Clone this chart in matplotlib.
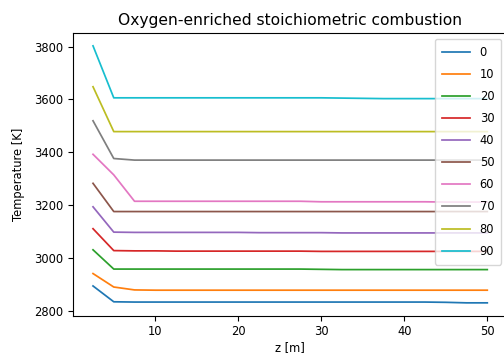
import matplotlib
matplotlib.use("Agg")
import matplotlib.pyplot as plt

# axial positions along the combustor
z = [2.5, 5.0, 7.5, 10.0, 12.5, 15.0, 17.5, 20.0, 22.5, 25.0,
     27.5, 30.0, 32.5, 35.0, 37.5, 40.0, 42.5, 45.0, 47.5, 50.0]

# oxygen enrichment levels (legend labels)
enrichment = [0, 10, 20, 30, 40, 50, 60, 70, 80, 90]

# temperature profiles [K], one list per enrichment level
T_0 = [2893, 2833, 2832, 2832, 2832, 2832, 2832, 2832, 2832, 2832,
       2832, 2832, 2832, 2832, 2832, 2832, 2832, 2831, 2829, 2829]
T_10 = [2940, 2889, 2878, 2877, 2877, 2877, 2877, 2877, 2877, 2877,
        2877, 2877, 2877, 2877, 2877, 2877, 2877, 2877, 2877, 2877]
T_20 = [3030, 2957, 2957, 2957, 2957, 2957, 2957, 2957, 2957, 2957,
        2957, 2956, 2955, 2955, 2955, 2955, 2955, 2955, 2955, 2955]
T_30 = [3110, 3027, 3026, 3026, 3025, 3025, 3025, 3025, 3025, 3025,
        3025, 3024, 3024, 3024, 3024, 3024, 3024, 3024, 3024, 3024]
T_40 = [3193, 3097, 3096, 3096, 3096, 3096, 3096, 3096, 3095, 3095,
        3095, 3095, 3094, 3094, 3094, 3094, 3094, 3094, 3094, 3094]
T_50 = [3282, 3175, 3175, 3175, 3175, 3175, 3175, 3175, 3175, 3175,
        3175, 3175, 3175, 3175, 3175, 3175, 3175, 3175, 3175, 3175]
T_60 = [3392, 3314, 3214, 3214, 3214, 3214, 3214, 3214, 3214, 3214,
        3214, 3212, 3212, 3212, 3212, 3212, 3212, 3211, 3211, 3211]
T_70 = [3519, 3376, 3370, 3370, 3370, 3370, 3370, 3370, 3370, 3370,
        3370, 3370, 3370, 3370, 3370, 3370, 3370, 3370, 3370, 3370]
T_80 = [3648, 3478, 3478, 3478, 3478, 3478, 3478, 3478, 3478, 3478,
        3478, 3478, 3478, 3478, 3478, 3478, 3478, 3478, 3478, 3478]
T_90 = [3803, 3606, 3606, 3606, 3606, 3606, 3606, 3606, 3606, 3606,
        3606, 3606, 3605, 3604, 3603, 3603, 3603, 3603, 3603, 3603]

profiles = [T_0, T_10, T_20, T_30, T_40, T_50, T_60, T_70, T_80, T_90]

fs = 8.3
fig = plt.figure(figsize=(5.04, 3.58), dpi=100)
ax = fig.add_axes([73.3 / 504, 42.3 / 358, 433.7 / 504, 282.7 / 358])

for level, T in zip(enrichment, profiles):
    ax.plot(z, T, lw=1.25, label=str(level))

ax.set_title("Oxygen-enriched stoichiometric combustion", fontsize=11.2)
ax.set_xlabel("z [m]", fontsize=fs, labelpad=2)
ax.set_ylabel("Temperature [K]", fontsize=fs, labelpad=7)
ax.tick_params(labelsize=fs)
ax.legend(loc="upper right", fontsize=fs, handlelength=2.5,
          labelspacing=0.79, borderpad=0.6)

fig.savefig("out.png", dpi=100)
